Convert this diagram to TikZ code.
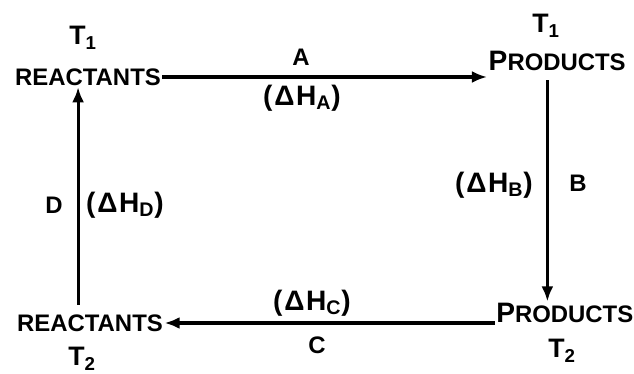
\documentclass[tikz,border=0pt]{standalone}
\usepackage{fontspec}
\setmainfont{Liberation Sans}
\usepackage{tikz}
\usetikzlibrary{arrows.meta,calc,positioning}
\newcommand{\dH}[1]{{\addfontfeature{LetterSpace=6}(ΔH\textsubscript{#1})}}
\newcommand{\Prods}{{\fontsize{20}{22}\selectfont P}{\fontsize{17}{20}\selectfont RODUCTS}}

\begin{document}
\begin{tikzpicture}[
  font=\bfseries\fontsize{17}{20}\selectfont,
  state/.style={inner sep=1pt},
  temp/.style={inner sep=1pt, font=\bfseries\fontsize{19}{22}\selectfont},
  lbl/.style={inner sep=1pt},
  hlbl/.style={inner sep=1pt, font=\bfseries\fontsize{20}{22}\selectfont},
  arr/.style={-{Latex[length=3.8mm,width=3mm]}, line width=2.2pt}
]
\useasboundingbox (0,0) rectangle (15.85,9.325);

\node[temp] (t1a) at (2.075,8.375) {T\textsubscript{1}};
\node[state] (r1) at (2.2,7.4) {REACTANTS};
\node[temp] (t1b) at (13.65,8.675) {T\textsubscript{1}};
\node[state] (p1) at (13.93,7.8) {\Prods};

\node[state] (p2) at (14.12,1.5) {\Prods};
\node[temp] (t2b) at (14.05,0.55) {T\textsubscript{2}};
\node[state] (r2) at (2.25,1.25) {REACTANTS};
\node[temp] (t2a) at (2.05,0.36) {T\textsubscript{2}};

% step labels
\node[lbl] (la) at (7.525,7.9) {A};
\node[hlbl] (ha) at (7.55,6.875) {\dH{A}};
\node[hlbl] (hb) at (12.35,4.7) {\dH{B}};
\node[lbl] (lb) at (14.45,4.75) {B};
\node[hlbl] (hc) at (7.8,1.75) {\dH{C}};
\node[lbl] (lc) at (7.925,0.7) {C};
\node[lbl] (ld) at (1.35,4.2) {D};
\node[hlbl] (hd) at (3.125,4.2) {\dH{D}};

\coordinate (bx) at ($(p1.south west)!0.43!(p1.south east)$);
\coordinate (dx) at ($(r2.north west)!0.42!(r2.north east)$);

\draw[arr] (r1.east) -- (r1.east -| p1.west);
\draw[arr,shorten <=2mm] (bx) -- (bx |- p2.north);
\draw[arr] (p2.west |- r2.east) -- (r2.east);
\draw[arr,shorten <=2mm] (dx) -- (dx |- r1.south);
\end{tikzpicture}
\end{document}
